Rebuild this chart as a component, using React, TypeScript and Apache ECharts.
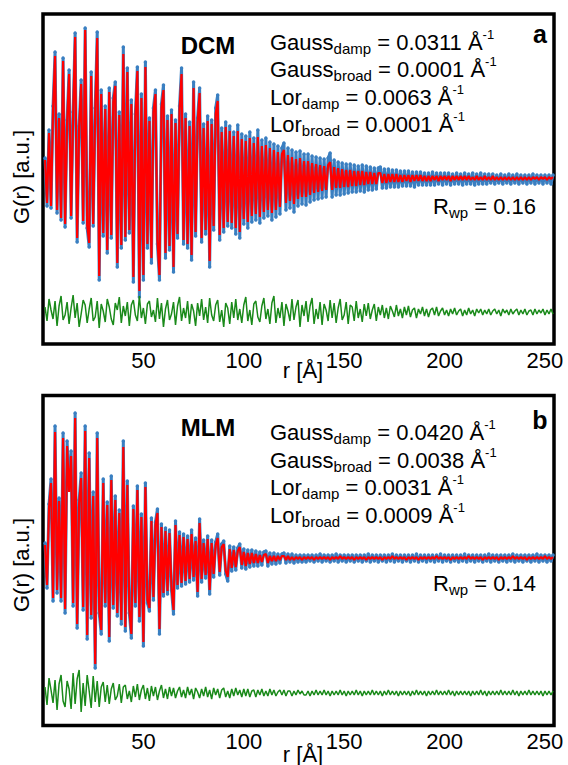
import React, { useEffect, useRef } from "react";
import * as echarts from "echarts";

const R_FIRST = 1;
const R_STEP = 1;
const xTickValues = [50, 100, 150, 200, 250];

// ---------- panel a (DCM) : G(r) in arbitrary units ----------
const obsA = [
  20, -28, 48, -30, 72, 126, -35, 64, -42, 120,
  -49, 58, 108, -40, 66, 145, -64, 52, 98, -45,
  150, -50, -69, 106, -48, 70, 146, -102, 88, -58,
  72, -75, 90, -60, 80, 96, -89, 66, -70, 131,
  -62, 110, -55, 78, -104, 64, 111, -119, 84, -102,
  116, -70, 60, -85, 70, 88, -66, -102, 74, 93,
  -80, 62, -72, 68, -94, 58, -60, 72, 110, -66,
  64, -70, 56, -82, 96, -58, 60, 90, -64, 54,
  -56, 62, -89, 58, -52, 70, 83, -62, 50, -54,
  56, -48, 52, -50, 46, -56, 53, -60, 44, -46,
  42, -50, 46, -44, 40, -42, 48, -45, 38, -40,
  40, -38, 36, -42, 34, -39, 32, -36, 30, 35,
  -32, 30, -30, 28, -34, 26, -28, 27, -26, 24,
  -27, 24, -24, 22, -22, 21, -21, 20, -20, 19,
  -19, 20, 25, -19, 18, -17, 16, -17, 15, -16,
  14, -15, 14, -14, 13, -14, 12, -13, 13, -14,
  12, -12, 11, -12, 10, -11, 10, 11, -10, 9,
  -10, 9, -9, 8, -9, 8, -9, 7, -8, 7,
  -8, 7, -8, 6, -9, 6, -7, 6, -7, 5,
  -7, 5, -7, 6, -7, 5, -6, 5, -7, 5,
  -6, 5, -7, 4, -6, 5, -6, 4, -7, 5,
  -6, 4, -6, 5, -7, 4, -6, 5, -6, 4,
  -6, 4, -5, 4, -6, 3, -5, 4, -6, 3,
  -5, 4, -6, 3, -5, 4, -6, 3, -5, 3,
  -6, 3, -5, 4, -6, 3, -5, 3, -6, 3,
  -5, 3, -6, 3,
];
const calcA = [
  18, -25, 45, -28, 68, 122, -32, 60, -40, 117,
  -46, 55, 104, -38, 63, 141, -60, 50, 94, -43,
  148, -47, -65, 102, -46, 67, 140, -98, 84, -55,
  69, -72, 86, -57, 76, 92, -85, 63, -67, 124,
  -59, 106, -52, 74, -99, 61, 107, -113, 80, -97,
  111, -66, 57, -80, 66, 84, -62, -97, 70, 88,
  -75, 58, -68, 64, -89, 55, -56, 68, 104, -62,
  60, -66, 52, -77, 90, -54, 56, 85, -60, 50,
  -52, 57, -83, 54, -48, 64, 77, -57, 46, -50,
  51, -44, 47, -45, 42, -50, 47, -54, 39, -41,
  37, -44, 40, -38, 35, -36, 41, -39, 32, -34,
  33, -32, 30, -35, 28, -32, 26, -29, 24, 28,
  -25, 23, -23, 21, -26, 19, -21, 20, -19, 17,
  -19, 17, -17, 15, -15, 14, -14, 13, -13, 12,
  -12, 13, 16, -12, 11, -10, 10, -10, 9, -9,
  8, -9, 8, -8, 7, -8, 7, -7, 7, -7,
  6, -6, 6, -6, 5, -6, 5, 5, -5, 4,
  -5, 4, -4, 4, -4, 4, -4, 3, -4, 3,
  -3, 3, -4, 3, -3, 3, -3, 3, -3, 2,
  -3, 2, -3, 2, -2, 2, -3, 2, -2, 2,
  -2, 2, -3, 2, -2, 2, -2, 2, -2, 2,
  -2, 2, -2, 1, -2, 2, -2, 1, -2, 2,
  -2, 1, -2, 2, -2, 1, -2, 1, -2, 1,
  -2, 1, -2, 1, -2, 1, -2, 1, -2, 1,
  -2, 1, -2, 1, -1, 1, -2, 1, -1, 1,
  -2, 1, -1, 1,
];
const diffA = [
  5, -9, 13, 2, -7, 11, -14, 6, 16, -8,
  -3, 10, -12, 4, 17, -6, 9, -15, -2, 12,
  7, -11, 3, 14, -9, -5, 11, -16, 8, 1,
  -10, 13, 5, -7, -13, 9, 2, 15, -11, 6,
  -4, 10, -14, 7, 12, -3, -9, 16, -6, 4,
  -12, 8, 11, -5, 2, -10, 14, -7, 9, -15,
  3, 12, -8, -2, 10, -13, 6, 15, -9, 4,
  -6, 11, -12, 8, 1, -14, 9, -4, 13, -8,
  5, -11, 14, -3, -9, 7, 12, -10, 2, -15,
  9, 4, -12, 10, -6, 13, -8, 3, -11, 7,
  15, -9, 2, -13, 8, 11, -5, -10, 6, 14,
  -7, 3, -12, 9, 16, -11, 4, -6, 10, -14,
  8, 1, -9, 13, -8, 5, 12, -15, 7, -4,
  11, -10, 6, 14, -12, 3, -7, 10, -13, 8,
  2, -9, 12, -6, 9, -11, 4, 13, -8, -3,
  10, -12, 7, 5, -9, 11, -6, 3, -10, 8,
  -4, 9, -7, 2, 8, -9, 5, -3, 7, -6,
  4, -7, 6, 1, -5, 7, -4, 3, -6, 5,
  -3, 6, -5, 2, 4, -6, 3, -2, 5, -4,
  3, -5, 2, 4, -3, 5, -4, 1, 4, -3,
  2, -4, 3, -2, 4, -3, 1, 3, -4, 2,
  -3, 4, -2, 2, -4, 3, -1, 3, -3, 2,
  -2, 3, -3, 1, 3, -2, 2, -4, 3, -1,
  2, -3, 3, -2, 1, 3, -3, 2, -2, 3,
  -3, 1, 2, -3, 3, -2, 2, -1, 3, -3,
  2, -2, 3, -2,
];

// ---------- panel b (MLM) ----------
const obsB = [
  15, -30, 54, 79, -43, 132, -35, 60, -43, 125,
  -55, 117, 70, 107, -48, 145, -70, 58, 85, -52,
  132, -81, 105, -60, 66, -110, 125, -55, -76, 79,
  -48, 56, -83, 82, -50, 62, -58, 48, -66, 117,
  -73, 77, -55, -80, 52, -48, 72, -63, 44, -88,
  75, -45, -53, 40, -42, 36, 49, -76, 34, -38,
  30, -36, 28, -32, -56, 37, -30, 26, -28, 24,
  -26, 22, -24, 28, -22, 20, -38, 39, -24, 18,
  -20, 22, -36, 18, -19, 16, 24, -17, 14, 17,
  -16, -23, 12, -13, 11, -12, 10, 14, -10, 9,
  -11, 8, -9, 8, -8, 7, -8, 6, -7, 6,
  7, -8, 5, -6, 5, -6, 4, -5, 4, 5,
  -5, 4, -4, 4, -5, 3, -4, 3, -4, 3,
  -4, 3, -3, 3, -4, 3, -3, 4, -4, 3,
  -3, 3, -4, 3, -3, 4, -4, 3, -3, 3,
  -4, 3, -3, 3, -4, 3, -3, 3, -4, 3,
  -3, 4, -4, 3, -3, 3, -4, 3, -3, 3,
  -4, 3, -3, 4, -4, 3, -3, 3, -4, 3,
  -3, 3, -4, 3, -3, 4, -4, 3, -3, 3,
  -4, 3, -3, 3, -4, 3, -3, 4, -4, 3,
  -3, 3, -4, 3, -3, 3, -4, 3, -3, 4,
  -4, 3, -3, 3, -4, 3, -3, 3, -4, 3,
  -3, 4, -4, 3, -3, 3, -4, 3, -3, 3,
  -4, 3, -3, 4, -4, 3, -3, 3, -4, 3,
  -3, 3, -4, 3, -3, 4, -4, 3, -3, 3,
  -4, 3, -3, 3,
];
const calcB = [
  13, -27, 50, 75, -40, 126, -32, 57, -40, 120,
  -51, 112, 66, 102, -45, 140, -66, 55, 80, -49,
  127, -77, 100, -57, 62, -106, 120, -52, -72, 75,
  -45, 53, -79, 78, -47, 58, -55, 45, -62, 111,
  -69, 73, -52, -76, 49, -45, 68, -59, 41, -84,
  71, -42, -50, 37, -39, 33, 45, -71, 31, -35,
  27, -33, 25, -29, -52, 33, -27, 23, -25, 21,
  -23, 19, -21, 24, -19, 17, -34, 35, -21, 15,
  -17, 19, -32, 15, -16, 13, 20, -14, 11, 14,
  -13, -19, 9, -10, 8, -9, 7, 11, -7, 6,
  -8, 5, -6, 5, -5, 4, -5, 3, -4, 3,
  4, -5, 2, -3, 2, -3, 2, -2, 2, 2,
  -2, 2, -2, 1, -2, 1, -1, 1, -2, 1,
  -1, 1, -1, 1, -2, 1, -1, 1, -1, 1,
  -1, 1, -2, 1, -1, 1, -1, 2, -1, 1,
  -1, 1, -1, 1, -2, 1, -1, 1, -1, 1,
  -2, 1, -1, 1, -1, 1, -1, 1, -2, 1,
  -1, 1, -1, 2, -1, 1, -1, 1, -1, 1,
  -2, 1, -1, 1, -1, 1, -2, 1, -1, 1,
  -1, 1, -1, 1, -1, 2, -1, 1, -1, 1,
  -1, 1, -2, 1, -1, 1, -1, 1, -1, 1,
  -1, 2, -1, 1, -1, 1, -1, 1, -2, 1,
  -1, 1, -1, 1, -1, 1, -2, 1, -1, 1,
  -1, 1, -1, 2, -1, 1, -1, 1, -1, 1,
  -2, 1, -1, 1, -1, 1, -1, 1, -1, 2,
  -1, 1, -1, 1,
];
const diffB = [
  6, -12, 15, 3, -10, 13, -17, 9, 18, -8,
  -14, 12, 4, -16, 20, -11, 14, 23, -19, 10,
  -13, 18, 2, -15, 17, -9, 12, -14, 6, 11,
  -9, 8, -11, 4, 10, -7, -3, 9, -10, 6,
  8, -6, 2, -9, 7, -4, 9, -7, 3, 8,
  -6, 5, -8, 7, -3, 6, -7, 2, 8, -5,
  4, -6, 6, -3, 5, -5, 2, 6, -4, 3,
  -5, 6, -2, 4, -6, 5, 1, -5, 4, -3,
  6, -4, 3, -6, 5, -2, 4, -5, 3, 5,
  -4, 2, -5, 4, -3, 5, -2, 3, -4, 4,
  -3, 4, -4, 2, 3, -4, 3, -2, 4, -3,
  2, -3, 4, -2, 3, -3, 1, 3, -2, 3,
  -3, 2, 2, -3, 2, -2, 3, -1, 2, -2,
  -2, 2, -3, 2, -2, 3, -2, 2, -2, 3,
  -2, 2, -3, 2, -2, 2, -2, 3, -2, 2,
  -3, 2, -2, 2, -2, 3, -2, 2, -3, 2,
  -2, 2, -2, 3, -2, 2, -2, 2, -3, 2,
  -2, 3, -2, 2, -2, 2, -3, 2, -2, 2,
  -2, 2, -3, 2, -2, 3, -2, 2, -2, 2,
  -3, 2, -2, 2, -2, 3, -2, 2, -2, 2,
  -2, 3, -2, 2, -3, 2, -2, 2, -2, 2,
  -2, 2, -3, 2, -2, 2, -2, 3, -2, 2,
  -3, 2, -2, 2, -2, 2, -2, 3, -2, 2,
  -2, 2, -2, 3, -2, 2, -3, 2, -2, 2,
  -2, 3, -2, 2, -2, 2, -2, 2, -3, 2,
  -2, 2, -2, 2,
];

// ---------- annotation texts ----------
const labelsA = { sample: "DCM", panel: "a", rwp: "0.16" };
const labelsB = { sample: "MLM", panel: "b", rwp: "0.14" };
const paramsA: [string, string, string][] = [
  ["Gauss", "damp", "0.0311"],
  ["Gauss", "broad", "0.0001"],
  ["Lor", "damp", "0.0063"],
  ["Lor", "broad", "0.0001"],
];
const paramsB: [string, string, string][] = [
  ["Gauss", "damp", "0.0420"],
  ["Gauss", "broad", "0.0038"],
  ["Lor", "damp", "0.0031"],
  ["Lor", "broad", "0.0009"],
];

const FONT = "'Liberation Sans', Arial, Helvetica, sans-serif";
const BLUE = "#3a7fc1";
const RED = "#ff0000";
const GREEN = "#1a8a1a";

function toPairs(vals: number[], offset = 0) {
  return vals.map((v, i) => [R_FIRST + i * R_STEP, v + offset]);
}

const richStyles = {
  sub: { fontSize: 15, lineHeight: 15, verticalAlign: "bottom", fontFamily: FONT, fill: "#000" },
  sup: { fontSize: 13, lineHeight: 20, verticalAlign: "top", fontFamily: FONT, fill: "#000" },
};

function textEl(text: string, x: number, y: number, extra: any = {}) {
  return {
    type: "text",
    x,
    y,
    silent: true,
    style: {
      text,
      fontSize: 22,
      fontFamily: FONT,
      fill: "#000",
      align: "left",
      verticalAlign: "middle",
      lineHeight: 28,
      rich: richStyles,
      ...extra,
    },
  };
}

function panelGraphics(
  labels: { sample: string; panel: string; rwp: string },
  params: [string, string, string][],
  ys: { sample: number; lines: number[]; panel: number; rwp: number; yName: number; xName: number }
) {
  const els: any[] = [];
  els.push(textEl(labels.sample, 208, ys.sample, { fontWeight: "bold", fontSize: 24, align: "center" }));
  params.forEach((p, i) => {
    els.push(textEl(`${p[0]}{sub|${p[1]}} = ${p[2]} Å{sup|-1}`, 270, ys.lines[i]));
  });
  els.push(textEl(labels.panel, 540, ys.panel, { fontWeight: "bold", fontSize: 25, align: "center" }));
  els.push(textEl(`R{sub|wp} = ${labels.rwp}`, 433, ys.rwp));
  els.push({
    type: "text",
    x: 21,
    y: ys.yName,
    rotation: Math.PI / 2,
    silent: true,
    style: { text: "G(r) [a.u.]", fontSize: 22, fontFamily: FONT, fill: "#000", align: "center", verticalAlign: "middle" },
  });
  els.push(textEl("r [Å]", 303, ys.xName, { align: "center" }));
  return els;
}

function makeOption() {
  const grids = [
    { left: 43, top: 14, width: 511, height: 330 },
    { left: 43, top: 395.5, width: 511, height: 330 },
  ].map((g) => ({ ...g, show: true, borderColor: "#000", borderWidth: 3.5, backgroundColor: "transparent" }));

  const xAxes = [0, 1].map((i) => ({
    gridIndex: i,
    type: "value",
    min: 0,
    max: 254.5,
    interval: 50,
    axisLine: { show: false },
    axisTick: { show: false },
    splitLine: { show: false },
    axisLabel: {
      margin: 5,
      fontSize: 22,
      fontFamily: FONT,
      color: "#000",
      formatter: (v: number) => (xTickValues.includes(v) ? String(v) : ""),
    },
  }));

  const yRanges = [
    [-166, 164],
    [-167.5, 162.5],
  ];
  const yAxes = [0, 1].map((i) => ({
    gridIndex: i,
    type: "value",
    min: yRanges[i][0],
    max: yRanges[i][1],
    axisLine: { show: false },
    axisTick: { show: false },
    splitLine: { show: false },
    axisLabel: { show: false },
  }));

  const DIFF_OFFSET = [-134, -135];
  const panels = [
    { obs: obsA, calc: calcA, diff: diffA },
    { obs: obsB, calc: calcB, diff: diffB },
  ];
  const series: any[] = [];
  panels.forEach((p, i) => {
    series.push({
      type: "line",
      xAxisIndex: i,
      yAxisIndex: i,
      data: toPairs(p.obs),
      symbol: "circle",
      symbolSize: 3.5,
      showSymbol: true,
      itemStyle: { color: BLUE },
      lineStyle: { color: BLUE, width: 3 },
      silent: true,
      z: 2,
    });
    series.push({
      type: "line",
      xAxisIndex: i,
      yAxisIndex: i,
      data: toPairs(p.calc),
      showSymbol: false,
      symbol: "none",
      lineStyle: { color: RED, width: 2.2 },
      silent: true,
      z: 3,
    });
    series.push({
      type: "line",
      xAxisIndex: i,
      yAxisIndex: i,
      data: toPairs(p.diff, DIFF_OFFSET[i]),
      showSymbol: false,
      symbol: "none",
      lineStyle: { color: GREEN, width: 1.5 },
      silent: true,
      z: 3,
    });
  });

  const graphic = [
    ...panelGraphics(labelsA, paramsA, { sample: 45, lines: [42, 69, 97, 124], panel: 34, rwp: 206, yName: 177, xName: 370 }),
    ...panelGraphics(labelsB, paramsB, { sample: 427, lines: [432, 460, 487, 515], panel: 420, rwp: 583, yName: 565, xName: 754 }),
  ];

  return {
    animation: false,
    backgroundColor: "#ffffff",
    grid: grids,
    xAxis: xAxes,
    yAxis: yAxes,
    series,
    graphic,
  };
}

export default function App() {
  const ref = useRef<HTMLDivElement>(null);
  useEffect(() => {
    document.body.style.margin = "0";
    const chart = echarts.init(ref.current!, null, { renderer: "svg" });
    chart.setOption(makeOption() as any);
    return () => chart.dispose();
  }, []);
  return <div ref={ref} style={{ width: 568, height: 765 }} />;
}
